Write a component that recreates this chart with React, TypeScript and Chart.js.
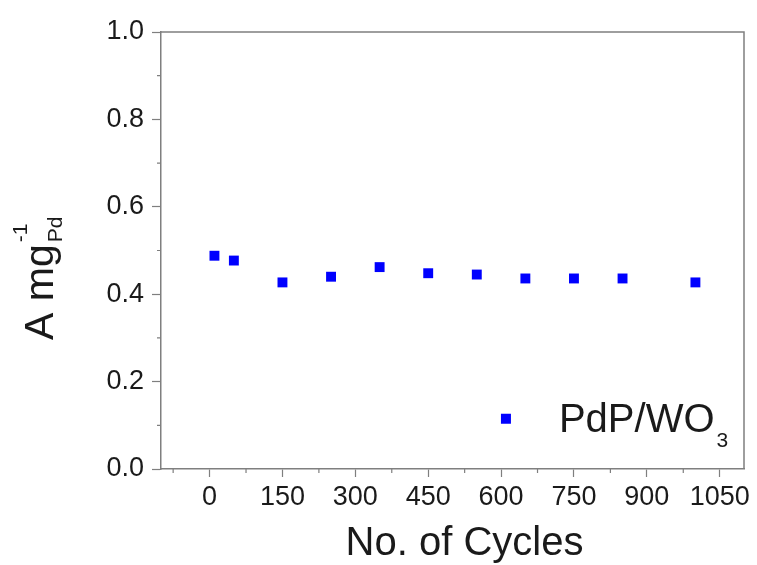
import React, { useEffect, useRef } from "react";
import Chart from "chart.js/auto";

const CYCLES = [10, 50, 150, 250, 350, 450, 550, 650, 750, 850, 1000];
const ACTIVITY = [0.488, 0.477, 0.427, 0.44, 0.462, 0.448, 0.445, 0.436, 0.436, 0.436, 0.427];
const SERIES_LABEL = "PdP/WO";
const SERIES_SUB = "3";

const X_MAJOR = [0, 150, 300, 450, 600, 750, 900, 1050];
const X_MINOR = [-75, 75, 225, 375, 525, 675, 825, 975];
const Y_MAJOR = [0, 0.2, 0.4, 0.6, 0.8, 1.0];
const Y_MINOR = [0.1, 0.3, 0.5, 0.7, 0.9];

const X_TITLE = "No. of Cycles";
const Y_TITLE_MAIN = "A mg";
const Y_TITLE_SUP = "-1";
const Y_TITLE_SUB = "Pd";

const FONT = "'Liberation Sans', Arial, sans-serif";
const AXIS_COLOR = "#7f7f7f";
const TEXT_COLOR = "#1a1a1a";
const POINT_COLOR = "#0000ff";

const isIn = (arr: number[], v: number) => arr.some((a) => Math.abs(a - v) < 1e-6);

const decorPlugin = {
  id: "decor",
  afterDraw(chart: any) {
    const { ctx, chartArea: a, scales } = chart;
    ctx.save();
    // frame top & right
    ctx.strokeStyle = AXIS_COLOR;
    ctx.lineWidth = 1.5;
    ctx.beginPath();
    ctx.moveTo(a.left, a.top);
    ctx.lineTo(a.right, a.top);
    ctx.lineTo(a.right, a.bottom);
    ctx.stroke();
    // minor ticks
    ctx.lineWidth = 1.2;
    ctx.beginPath();
    X_MINOR.forEach((v) => {
      const px = scales.x.getPixelForValue(v);
      ctx.moveTo(px, a.bottom);
      ctx.lineTo(px, a.bottom + 4);
    });
    Y_MINOR.forEach((v) => {
      const py = scales.y.getPixelForValue(v);
      ctx.moveTo(a.left, py);
      ctx.lineTo(a.left - 4, py);
    });
    ctx.stroke();

    // x title
    ctx.fillStyle = TEXT_COLOR;
    ctx.font = `40px ${FONT}`;
    ctx.textAlign = "center";
    ctx.textBaseline = "alphabetic";
    ctx.fillText(X_TITLE, (a.left + a.right) / 2 + 12, 555);

    // y title (rotated)
    ctx.save();
    ctx.translate(53, 340);
    ctx.rotate(-Math.PI / 2);
    ctx.textAlign = "left";
    ctx.font = `41px ${FONT}`;
    ctx.fillText(Y_TITLE_MAIN, 0, 0);
    const w = ctx.measureText(Y_TITLE_MAIN).width;
    ctx.font = `21px ${FONT}`;
    ctx.fillText(Y_TITLE_SUP, w + 2, -26);
    ctx.fillText(Y_TITLE_SUB, w + 2, 9);
    ctx.restore();

    // legend
    const lx = scales.x.getPixelForValue(610);
    const ly = scales.y.getPixelForValue(0.115);
    ctx.fillStyle = POINT_COLOR;
    ctx.fillRect(lx - 5, ly - 5, 10, 10);
    ctx.fillStyle = TEXT_COLOR;
    ctx.font = `40px ${FONT}`;
    ctx.textAlign = "left";
    ctx.fillText(SERIES_LABEL, lx + 53, ly + 13);
    const lw = ctx.measureText(SERIES_LABEL).width;
    ctx.font = `21px ${FONT}`;
    ctx.fillText(SERIES_SUB, lx + 53 + lw + 2, ly + 28);
    ctx.restore();
  },
};

export default function App() {
  const ref = useRef<HTMLCanvasElement>(null);
  useEffect(() => {
    document.body.style.margin = "0";
    const chart = new Chart(ref.current as HTMLCanvasElement, {
      type: "scatter",
      data: {
        datasets: [
          {
            label: SERIES_LABEL + SERIES_SUB,
            data: CYCLES.map((c, i) => ({ x: c, y: ACTIVITY[i] })),
            backgroundColor: POINT_COLOR,
            borderColor: POINT_COLOR,
            pointStyle: "rect",
            pointRadius: 7,
            pointBorderWidth: 0,
          },
        ],
      },
      options: {
        responsive: false,
        animation: false,
        devicePixelRatio: 1,
        layout: { padding: { top: 32, right: 13, left: 0, bottom: 0 } },
        plugins: { legend: { display: false }, tooltip: { enabled: false } },
        scales: {
          x: {
            type: "linear",
            min: -100,
            max: 1100,
            afterBuildTicks: (s: any) => {
              s.ticks = X_MAJOR.map((v) => ({ value: v }));
            },
            afterFit: (s: any) => {
              s.height = 96;
            },
            grid: {
              display: true,
              drawOnChartArea: false,
              drawTicks: true,
              tickLength: 8,
              tickColor: AXIS_COLOR,
              tickWidth: 1.2,
            },
            border: { display: true, color: AXIS_COLOR, width: 1.5 },
            ticks: {
              autoSkip: false,
              maxRotation: 0,
              padding: 4,
              color: TEXT_COLOR,
              font: { family: FONT, size: 27 },
              callback: (v: any) => (isIn(X_MAJOR, Number(v)) ? String(v) : ""),
            },
          },
          y: {
            type: "linear",
            min: 0,
            max: 1,
            afterBuildTicks: (s: any) => {
              s.ticks = Y_MAJOR.map((v) => ({ value: v }));
            },
            afterFit: (s: any) => {
              s.width = 161;
            },
            grid: {
              display: true,
              drawOnChartArea: false,
              drawTicks: true,
              tickLength: 9,
              tickColor: AXIS_COLOR,
              tickWidth: 1.2,
            },
            border: { display: true, color: AXIS_COLOR, width: 1.5 },
            ticks: {
              autoSkip: false,
              padding: 8,
              color: TEXT_COLOR,
              font: { family: FONT, size: 27 },
              callback: (v: any) => Number(v).toFixed(1),
            },
          },
        },
      },
      plugins: [decorPlugin],
    } as any);
    return () => chart.destroy();
  }, []);
  return <canvas ref={ref} width={757} height={565} style={{ display: "block" }} />;
}
